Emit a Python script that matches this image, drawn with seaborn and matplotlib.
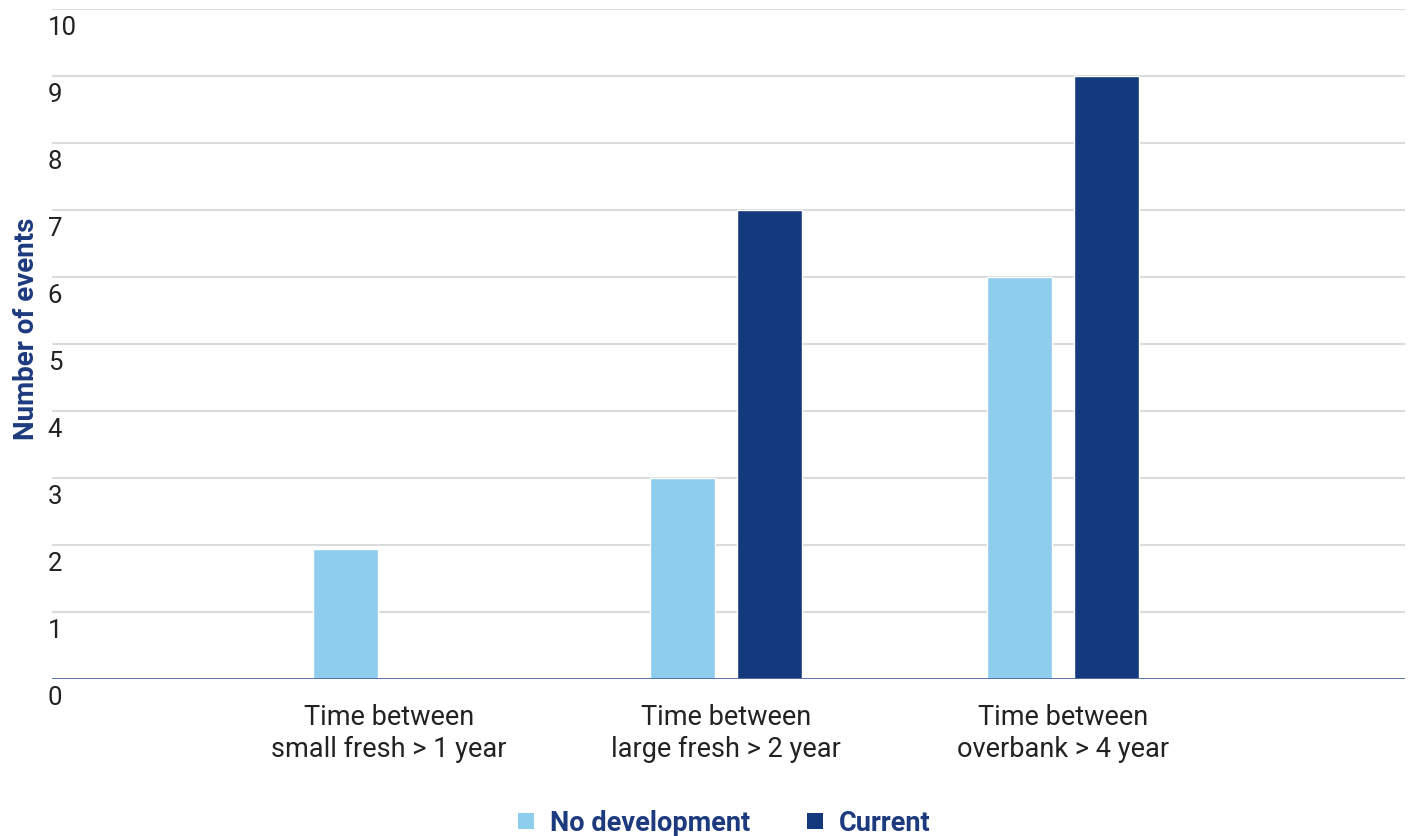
import matplotlib
matplotlib.use("Agg")
import matplotlib.pyplot as plt
import matplotlib.transforms as mtransforms
from matplotlib.patches import Patch
import seaborn as sns
import pandas as pd

categories = ["Time between\nsmall fresh > 1 year",
              "Time between\nlarge fresh > 2 year",
              "Time between\noverbank > 4 year"]
series = ["No development", "Current"]
no_development = [1.94, 3, 6]
current = [0, 7, 9]
yticks = list(range(0, 11))
colors = ["#8fcdee", "#14397d"]

df = pd.DataFrame({
    "category": categories * 2,
    "series": [series[0]] * 3 + [series[1]] * 3,
    "value": no_development + current,
})

sns.set_theme(style="white")
plt.rcParams["font.family"] = ["Roboto", "DejaVu Sans"]

fig = plt.figure(figsize=(14.15, 8.36), dpi=100)
ax = fig.add_axes([52 / 1415, 1 - 679 / 836, (1405 - 52) / 1415, (679 - 9) / 836])

sns.barplot(data=df, x="category", y="value", hue="series", hue_order=series,
            palette=colors, order=categories, width=0.52, gap=0.258,
            saturation=1, legend=False, ax=ax, zorder=3)

ax.set_xlim(-1.0, 3.015)
ax.set_ylim(0, 10)
ax.set_yticks(yticks)
ax.yaxis.grid(True, color="#d9dcdc", linewidth=1.5, zorder=0)
ax.set_axisbelow(True)
for s in ax.spines.values():
    s.set_visible(False)
ax.axhline(0, color="#4f6aa3", linewidth=2, zorder=4)

ax.tick_params(axis="y", length=0, pad=3, labelsize=18.5, labelcolor="#222222")
ax.tick_params(axis="x", length=0, pad=18, labelsize=19.5, labelcolor="#222222")
offset = mtransforms.ScaledTranslation(0, -0.07, fig.dpi_scale_trans)
for lab in ax.get_yticklabels():
    lab.set_horizontalalignment("left")
    lab.set_verticalalignment("top")
    lab.set_transform(lab.get_transform() + offset)
for lab in ax.get_xticklabels():
    lab.set_linespacing(1.25)

ax.set_xlabel("")
ax.set_ylabel("Number of events", fontsize=20, fontweight="bold", color="#1c3a7d")
ax.yaxis.set_label_coords(-0.009, 0.522)

handles = [Patch(facecolor=c, edgecolor="none") for c in colors]
leg = ax.legend(handles, series, loc="center", bbox_to_anchor=(0.497, -0.215),
                ncol=2, frameon=False, handlelength=0.58, handleheight=0.58,
                handletextpad=0.6, columnspacing=2.1,
                prop={"size": 19.5, "weight": "bold"})
for t in leg.get_texts():
    t.set_color("#1c3a7d")

fig.savefig("out.png", dpi=100)
